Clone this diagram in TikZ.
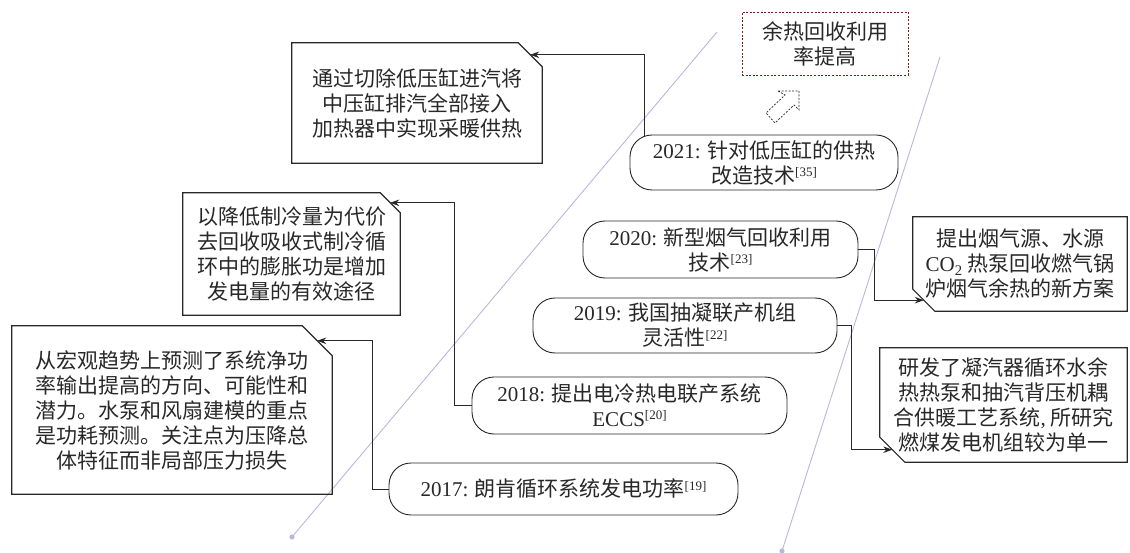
\documentclass[tikz,border=0pt]{standalone}
\usepackage{fontspec}
\setmainfont{Liberation Serif}
\newfontfamily\cjk{Noto Sans CJK SC}
\usetikzlibrary{arrows.meta,calc}
\newcommand\fs{\fontsize{21}{25}\selectfont}
\newcommand\rf[1]{\raisebox{0.6ex}{\rmfamily\fontsize{13}{13}\selectfont[#1]}}
\newcommand\cutNE[2]{\draw[boxline] (#1.south west) -- (#1.north west) -- ($(#1.north east)+(-#2,0)$) -- ($(#1.north east)+(0,#2)$) -- (#1.south east) -- cycle;}
\newcommand\cutSW[2]{\draw[boxline] (#1.north west) -- (#1.north east) -- (#1.south east) -- ($(#1.south west)+(#2,0)$) -- ($(#1.south west)+(0,-#2)$) -- cycle;}
\definecolor{lav}{RGB}{188,182,218}
\definecolor{dred}{RGB}{125,30,30}
\definecolor{ink}{RGB}{40,40,40}
\begin{document}
\begin{tikzpicture}[x=1pt,y=-1pt,
  box/.style={inner sep=0pt, align=center, font=\fs\cjk, text=ink},
  boxline/.style={draw=ink, line width=1.2pt, line join=miter},
  rnode/.style={rectangle, rounded corners=22pt, draw=ink, line width=0.9pt, fill=white, align=center, inner sep=0pt, font=\fs\cjk, text=ink},
  conn/.style={draw=ink, line width=0.9pt, rounded corners=0pt, -{Stealth[length=9pt,width=6.5pt]}},
  timeline/.style={draw=lav, line width=0.9pt}]
\useasboundingbox (0,0) rectangle (1130,553);
% timeline lines
\coordinate (l1a) at (292,537); \coordinate (l1b) at (717,32);
\coordinate (l2a) at (782,551); \coordinate (l2b) at (940,57);
\draw[timeline] (l1a) -- (l1b);
\draw[timeline] (l2a) -- (l2b);
\fill[lav] (l1a) circle (2.6);
\fill[lav] (l2a) circle (2.6);
% text boxes
\node[box, minimum width=250, minimum height=120] (A) at (417,103) {通过切除低压缸进汽将\\中压缸排汽全部接入\\加热器中实现采暖供热};
\cutNE{A}{24}
\node[box, minimum width=217, minimum height=122] (B) at (291.5,254) {以降低制冷量为代价\\去回收吸收式制冷循\\环中的膨胀功是增加\\发电量的有效途径};
\cutNE{B}{20}
\node[box, minimum width=320, minimum height=168] (C) at (172,410) {从宏观趋势上预测了系统净功\\率输出提高的方向、可能性和\\潜力。水泵和风扇建模的重点\\是功耗预测。关注点为压降总\\体特征而非局部压力损失};
\cutNE{C}{30}
\node[box, minimum width=214, minimum height=94] (D) at (1020,264) {提出烟气源、水源\\{\rmfamily CO\textsubscript{2}} 热泵回收燃气锅\\炉烟气余热的新方案};
\cutSW{D}{22}
\node[box, minimum width=247, minimum height=114] (E) at (1003.5,405) {研发了凝汽器循环水余\\热热泵和抽汽背压机耦\\合供暖工艺系统{\rmfamily ,} 所研究\\燃煤发电机组较为单一};
\cutSW{E}{25}
\node[box, minimum width=166, minimum height=63, draw=dred, line width=0.8pt, dash pattern=on 2pt off 1.6pt] (F) at (825,43.5) {余热回收利用\\率提高};
% hollow dashed arrow
\draw[draw=ink, line width=0.7pt, dash pattern=on 2pt off 1.5pt, line join=miter]
  (778,91) -- (799,91) -- (799,110) -- (794,105) -- (775,123) -- (766,113) -- (785,95) -- cycle;
% timeline nodes
\node[rnode, minimum width=268, minimum height=55] (n2021) at (764,162.5) {{\rmfamily 2021:} 针对低压缸的供热\\改造技术\rf{35}};
\node[rnode, minimum width=275, minimum height=57] (n2020) at (720.5,249.5) {{\rmfamily 2020:} 新型烟气回收利用\\技术\rf{23}};
\node[rnode, minimum width=304, minimum height=55] (n2019) at (685,325.5) {{\rmfamily 2019:} 我国抽凝联产机组\\灵活性\rf{22}};
\node[rnode, minimum width=315, minimum height=57] (n2018) at (629.5,405.5) {{\rmfamily 2018:} 提出电冷热电联产系统\\{\rmfamily ECCS}\rf{20}};
\node[rnode, minimum width=349, minimum height=52] (n2017) at (563.5,489) {{\rmfamily 2017:} 朗肯循环系统发电功率\rf{19}};
% connectors
\draw[conn] ($(n2021.north west)+(15,2)$) |- ($(A.north east)+(-12,12)$);
\draw[conn] (n2020.east) -- ++(16,0) |- ($(D.south west)+(11,-11)$);
\draw[conn] (n2019.east) -- ++(14,0) |- ($(E.south west)+(12.5,-12.5)$);
\draw[conn] (n2018.west) -- ++(-17,0) |- ($(B.north east)+(-10,10)$);
\draw[conn] (n2017.west) -- ++(-16,0) |- ($(C.north east)+(-15,15)$);
\end{tikzpicture}
\end{document}
